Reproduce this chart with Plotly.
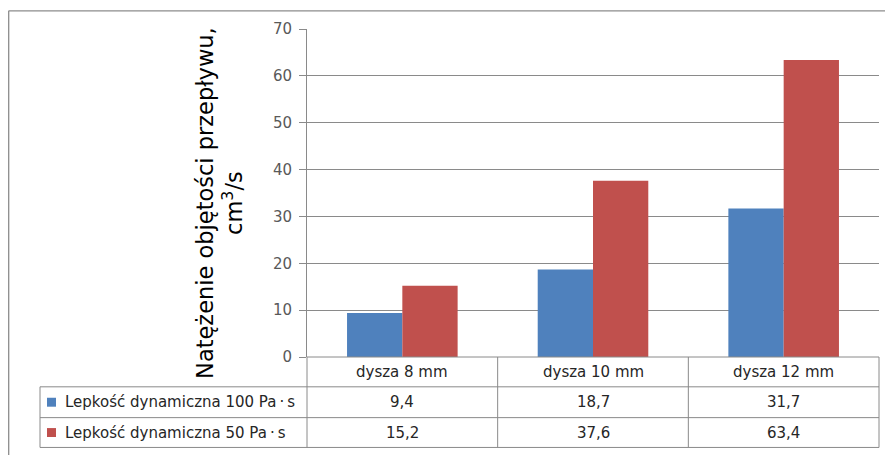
import plotly.graph_objects as go

categories = ["dysza 8 mm", "dysza 10 mm", "dysza 12 mm"]
series_names = ["Lepkość dynamiczna 100 Pa\u2009·\u2009s", "Lepkość dynamiczna 50 Pa\u2009·\u2009s"]
values_100 = [9.4, 18.7, 31.7]
values_50 = [15.2, 37.6, 63.4]
y_ticks = [0, 10, 20, 30, 40, 50, 60, 70]
y_title = "Natężenie objętości przepływu,<br>cm<sup>3</sup>/s"

colors = ["#4F81BD", "#C0504D"]
series_values = [values_100, values_50]

# the page body adds an 8px margin; all geometry below is in page pixels
OFF = 8
W, H = 893 - OFF, 455 - OFF
PLOT_L, PLOT_R, PLOT_T, PLOT_B = 307, 879, 27, 357
L = PLOT_L - OFF
T = PLOT_T - OFF
R = W - (PLOT_R - OFF)
B = H - (PLOT_B - OFF)
PW = W - L - R
PH = H - T - B
FONT = "DejaVu Sans"
GRID = "#8a8a8a"


def px(xp):
    return (xp - OFF - L) / PW


def py(yp):
    return (H - B - (yp - OFF)) / PH


fig = go.Figure()
for name, vals, col in zip(series_names, series_values, colors):
    fig.add_trace(go.Bar(x=categories, y=vals, name=name, marker=dict(color=col, line=dict(width=0)),
                         showlegend=False))

shapes = []
annotations = []

# table geometry (page pixels)
row_tops = [357, 387, 418, 448]
table_left = 40
n = len(categories)
col_edges = [PLOT_L + (PLOT_R - PLOT_L) * i / n for i in range(n + 1)]

line_style = dict(color=GRID, width=1)
shapes.append(dict(type="line", xref="paper", yref="paper", x0=px(PLOT_L), x1=px(PLOT_R),
                   y0=py(row_tops[0]), y1=py(row_tops[0]), line=line_style))
for yy in row_tops[1:]:
    shapes.append(dict(type="line", xref="paper", yref="paper", x0=px(table_left), x1=px(PLOT_R),
                       y0=py(yy), y1=py(yy), line=line_style))
for xx in col_edges:
    shapes.append(dict(type="line", xref="paper", yref="paper", x0=px(xx), x1=px(xx),
                       y0=py(row_tops[0]), y1=py(row_tops[-1]), line=line_style))
shapes.append(dict(type="line", xref="paper", yref="paper", x0=px(table_left), x1=px(table_left),
                   y0=py(row_tops[1]), y1=py(row_tops[-1]), line=line_style))

# outer chart border (left and top visible)
shapes.append(dict(type="line", xref="paper", yref="paper", x0=px(8.7), x1=px(8.7),
                   y0=py(8.7), y1=py(470), line=dict(color="#8c8c8c", width=1.3)))
shapes.append(dict(type="line", xref="paper", yref="paper", x0=px(8.7), x1=px(910),
                   y0=py(8.7), y1=py(8.7), line=dict(color="#8c8c8c", width=1.3)))

txt_font = dict(family=FONT, size=15, color="#262626")

for i, c in enumerate(categories):
    cx = (col_edges[i] + col_edges[i + 1]) / 2
    annotations.append(dict(x=px(cx), y=py((row_tops[0] + row_tops[1]) / 2), xref="paper", yref="paper",
                            text=c, showarrow=False, xanchor="center", yanchor="middle", font=txt_font))

for r, (name, vals, col) in enumerate(zip(series_names, series_values, colors)):
    ymid = (row_tops[r + 1] + row_tops[r + 2]) / 2
    shapes.append(dict(type="rect", xref="paper", yref="paper", x0=px(47), x1=px(56),
                       y0=py(ymid - 4.5), y1=py(ymid + 4.5), fillcolor=col, line=dict(width=0)))
    annotations.append(dict(x=px(63), y=py(ymid), xref="paper", yref="paper", text=name,
                            showarrow=False, xanchor="left", yanchor="middle", font=txt_font))
    for i, v in enumerate(vals):
        cx = (col_edges[i] + col_edges[i + 1]) / 2
        annotations.append(dict(x=px(cx), y=py(ymid), xref="paper", yref="paper",
                                text=f"{v:.1f}".replace(".", ","), showarrow=False,
                                xanchor="center", yanchor="middle", font=txt_font))

annotations.append(dict(x=px(220), y=py(202), xref="paper", yref="paper", text=y_title, showarrow=False,
                        textangle=-90, xanchor="center", yanchor="middle",
                        font=dict(family=FONT, size=22.5, color="#000000")))

fig.update_layout(
    width=W, height=H,
    margin=dict(l=L, r=R, t=T, b=B),
    paper_bgcolor="white", plot_bgcolor="white",
    barmode="group", bargap=0.42, bargroupgap=0,
    shapes=shapes, annotations=annotations,
    xaxis=dict(showticklabels=False, showgrid=False, zeroline=False, showline=False, ticks=""),
    yaxis=dict(range=[0, 70], tickvals=y_ticks, showgrid=True, gridcolor=GRID, gridwidth=1,
               zeroline=False, showline=True, linecolor=GRID, linewidth=1,
               ticks="outside", ticklen=7, tickcolor=GRID, ticklabelstandoff=4,
               tickfont=dict(family=FONT, size=15, color="#595959")),
)

fig.write_html("out.html")
